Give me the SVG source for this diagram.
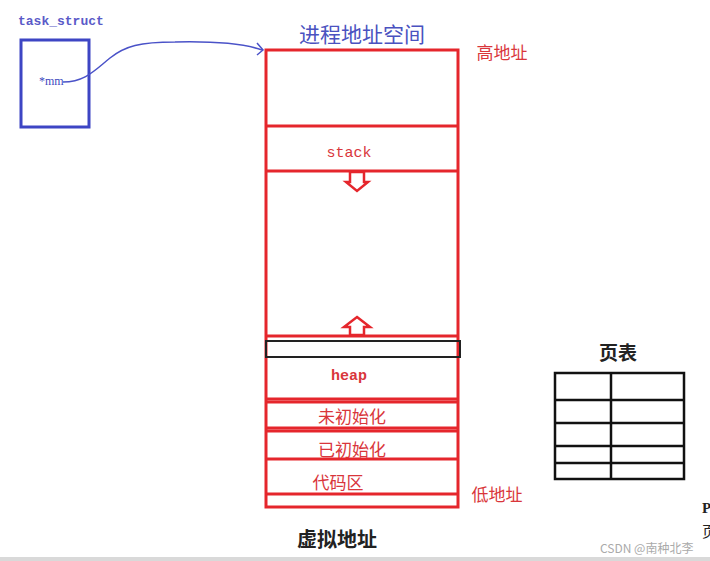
<svg xmlns="http://www.w3.org/2000/svg" width="710" height="561" viewBox="0 0 710 561">
<style>
.r{fill:none;stroke:#e5262c;stroke-width:3}
.rt{fill:#d9363b;font-family:"Noto Sans CJK SC","Liberation Serif",serif;font-size:17px;text-anchor:middle}
.mono{font-family:"Liberation Mono","DejaVu Sans Mono",monospace}
.bk{fill:none;stroke:#111;stroke-width:2.5}
</style>
<rect width="710" height="561" fill="#fff"/>
<g id="task_struct">
<text x="18" y="25" class="mono" font-size="13" font-weight="bold" fill="#5a5ac8">task_struct</text>
<rect x="21" y="40" width="68" height="87" fill="none" stroke="#3d45c4" stroke-width="3"/>
<text x="39" y="85" font-family="Liberation Serif,serif" font-size="12" fill="#4048c0">*mm</text>
</g>
<g id="connectors">
<path d="M63,82 C85,82 95,70 110,58 C125,46 140,42 175,42 C220,41 245,44 262,50" fill="none" stroke="#4a52c8" stroke-width="1.5"/>
<polyline points="257,43 263,50 257,55" fill="none" stroke="#4a52c8" stroke-width="1.5"/>
</g>
<g id="address_space">
<text x="362" y="42" font-family="'Noto Sans CJK SC',sans-serif" font-size="21" fill="#4a52c0" text-anchor="middle">进程地址空间</text>
<text x="502" y="59" class="rt">高地址</text>
<rect x="266" y="50" width="192" height="457" class="r"/>
<line x1="266" y1="126" x2="458" y2="126" class="r"/>
<line x1="266" y1="171" x2="458" y2="171" class="r"/>
<text x="349" y="157" class="mono" font-size="15" fill="#d9363b" text-anchor="middle">stack</text>
<path d="M350,172 L364,172 L364,182 L368,182 L357,191 L346,182 L350,182 Z" fill="none" stroke="#e5262c" stroke-width="2.5"/>
<path d="M357,317 L370,327 L364,327 L364,335 L350,335 L350,327 L344,327 Z" fill="none" stroke="#e5262c" stroke-width="2.5"/>
<line x1="266" y1="336" x2="458" y2="336" class="r"/>
<rect x="266" y="341" width="194" height="16" fill="none" stroke="#222" stroke-width="2"/>
<text x="349" y="380" class="mono" font-size="15" font-weight="bold" fill="#d9363b" text-anchor="middle">heap</text>
<line x1="266" y1="399" x2="458" y2="399" class="r"/>
<line x1="266" y1="402" x2="458" y2="402" class="r"/>
<text x="352" y="423" class="rt">未初始化</text>
<line x1="266" y1="428" x2="458" y2="428" class="r"/>
<line x1="266" y1="431" x2="458" y2="431" class="r"/>
<text x="352" y="456" class="rt">已初始化</text>
<line x1="266" y1="459" x2="458" y2="459" class="r"/>
<text x="338" y="489" class="rt">代码区</text>
<line x1="266" y1="494" x2="458" y2="494" class="r"/>
<text x="497" y="501" class="rt">低地址</text>
<text x="337" y="547" font-family="'Noto Sans CJK SC',sans-serif" font-size="20" font-weight="bold" fill="#222" text-anchor="middle">虚拟地址</text>
</g>
<g id="page_table">
<text x="618" y="360" font-family="'Noto Sans CJK SC',sans-serif" font-size="19" font-weight="bold" fill="#222" text-anchor="middle">页表</text>
<rect x="555" y="373" width="129" height="106" class="bk"/>
<line x1="611" y1="373" x2="611" y2="479" class="bk"/>
<line x1="555" y1="400" x2="684" y2="400" class="bk"/>
<line x1="555" y1="423" x2="684" y2="423" class="bk"/>
<line x1="555" y1="446" x2="684" y2="446" class="bk"/>
<line x1="555" y1="463" x2="684" y2="463" class="bk"/>
</g>
<text x="702" y="513" font-family="'Liberation Serif',serif" font-size="15" font-weight="bold" fill="#222">P</text>
<text x="702" y="537" font-family="'Noto Sans CJK SC',sans-serif" font-size="15" fill="#222">页</text>
<text x="600" y="553" font-family="'Noto Sans CJK SC',sans-serif" font-size="12" fill="#aaa">CSDN @南种北李</text>
<rect x="0" y="557" width="710" height="4" fill="#d9d9d9"/>
</svg>
